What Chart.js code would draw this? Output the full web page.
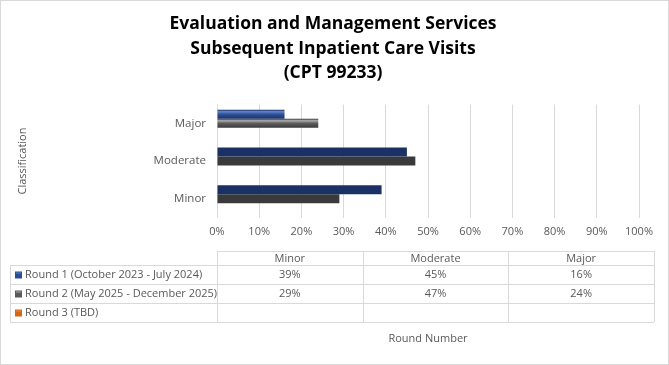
<!DOCTYPE html>
<html>
<head>
<meta charset="utf-8">
<script src="https://cdn.jsdelivr.net/npm/chart.js@4.4.1/dist/chart.umd.min.js"></script>
<style>
  html, body { margin: 0; padding: 0; background: #fff; }
  #wrap { width: 669px; height: 365px; position: relative; }
</style>
</head>
<body>
<div id="wrap"><canvas id="chart"></canvas></div>
<script>
// Chart data
const titleLines = ['Evaluation and Management Services', 'Subsequent Inpatient Care Visits', '(CPT 99233)'];
const categories = ['Minor', 'Moderate', 'Major'];
const seriesNames = ['Round 1 (October 2023 - July 2024)', 'Round 2 (May 2025 - December 2025)', 'Round 3 (TBD)'];
const round1 = [39, 45, 16];
const round2 = [29, 47, 24];
const round3 = [null, null, null];
const xTicks = [0, 10, 20, 30, 40, 50, 60, 70, 80, 90, 100];
const yAxisTitle = 'Classification';

const FONT = "'Open Sans', 'DejaVu Sans', sans-serif";
const TEXT_GRAY = '#595959';

// bar shading: dark / light / dark per series
const seriesShades = [
    { base: '#2f5195', light: '#5f82cb', dark: '#1b3166', swatch: '#2c4d8f' },
    { base: '#5c5c5c', light: '#ababab', dark: '#3a3a3a', swatch: '#595959' },
    { base: '#c55a11', light: '#f08a3c', dark: '#8f3e08', swatch: '#d4661a' }
];

// Give each bar a glossy vertical gradient based on its computed geometry
const barShading = {
    id: 'barShading',
    beforeDatasetsDraw(chart) {
        const ctx = chart.ctx;
        chart.data.datasets.forEach((ds, i) => {
            const meta = chart.getDatasetMeta(i);
            const shade = seriesShades[i];
            meta.data.forEach(bar => {
                if (!bar || isNaN(bar.y)) return;
                const top = bar.y - bar.height / 2;
                const g = ctx.createLinearGradient(0, top, 0, top + bar.height);
                g.addColorStop(0, shade.dark);
                g.addColorStop(0.2, shade.light);
                g.addColorStop(0.5, shade.base);
                g.addColorStop(1, shade.dark);
                bar.options.backgroundColor = g;
            });
        });
    }
};

// Data table drawn under the x axis, plus the rotated y axis title
const dataTable = {
    id: 'dataTable',
    afterDraw(chart) {
        const ctx = chart.ctx;
        const area = chart.chartArea;
        const left = 10, colStart = area.left, right = 654;
        const colW = (right - colStart) / categories.length;
        const rows = [251, 265, 284, 303, 322];
        const values = [round1, round2, round3];

        ctx.save();
        ctx.strokeStyle = '#d9d9d9';
        ctx.lineWidth = 1;
        ctx.beginPath();
        ctx.moveTo(colStart, rows[0] + 0.5); ctx.lineTo(right, rows[0] + 0.5);
        for (let r = 1; r < rows.length; r++) {
            ctx.moveTo(left, rows[r] + 0.5); ctx.lineTo(right, rows[r] + 0.5);
        }
        ctx.moveTo(left + 0.5, rows[1]); ctx.lineTo(left + 0.5, rows[4]);
        for (let c = 0; c <= categories.length; c++) {
            const x = Math.round(colStart + c * colW) + 0.5;
            ctx.moveTo(x, rows[0]); ctx.lineTo(x, rows[4]);
        }
        ctx.stroke();

        ctx.font = '11px ' + FONT;
        ctx.fillStyle = TEXT_GRAY;
        ctx.textBaseline = 'middle';
        ctx.textAlign = 'center';
        categories.forEach((c, j) => {
            ctx.fillText(c, colStart + (j + 0.5) * colW, (rows[0] + rows[1]) / 2 + 1);
        });
        seriesNames.forEach((name, i) => {
            const cy = (rows[i + 1] + rows[i + 2]) / 2 + 0.5;
            // legend key
            const sh = seriesShades[i];
            ctx.fillStyle = sh.swatch;
            ctx.fillRect(15, cy - 3.5, 7, 7);
            ctx.fillStyle = sh.light;
            ctx.fillRect(16, cy - 2.5, 5, 1);
            ctx.fillStyle = TEXT_GRAY;
            ctx.textAlign = 'left';
            ctx.fillText(name, 25, cy);
            ctx.textAlign = 'center';
            values[i].forEach((v, j) => {
                if (v === null) return;
                ctx.fillText(v + '%', colStart + (j + 0.5) * colW, cy);
            });
        });

        // y axis title
        ctx.translate(23, (area.top + area.bottom) / 2);
        ctx.rotate(-Math.PI / 2);
        ctx.textAlign = 'center';
        ctx.fillText(yAxisTitle, 0, 0);
        ctx.restore();
    }
};

// Light border round the whole chart
const frame = {
    id: 'frame',
    beforeDraw(chart) {
        const ctx = chart.ctx;
        ctx.save();
        ctx.fillStyle = '#fff';
        ctx.fillRect(0, 0, chart.width, chart.height);
        ctx.strokeStyle = '#d9d9d9';
        ctx.strokeRect(0.5, 0.5, chart.width - 1, chart.height - 1);
        ctx.restore();
    }
};

const datasets = [round1, round2, round3].map((vals, i) => ({
    label: seriesNames[i],
    data: vals,
    backgroundColor: seriesShades[i].base,
    borderWidth: 0,
    barPercentage: 1.0,
    categoryPercentage: 0.72
}));

new Chart(document.getElementById('chart'), {
    type: 'bar',
    data: { labels: categories, datasets: datasets },
    plugins: [frame, barShading, dataTable],
    options: {
        indexAxis: 'y',
        responsive: true,
        maintainAspectRatio: false,
        animation: false,
        layout: { padding: { left: 27, right: 30, top: 0, bottom: 20 } },
        plugins: {
            legend: { display: false },
            tooltip: { enabled: false },
            title: {
                display: true,
                text: titleLines,
                color: '#000',
                font: { family: FONT, size: 17.5, weight: 'bold', lineHeight: 1.4 },
                padding: { top: 12, bottom: 19 }
            }
        },
        scales: {
            x: {
                min: 0,
                max: 100,
                afterBuildTicks: scale => { scale.ticks = xTicks.map(v => ({ value: v })); },
                ticks: {
                    color: TEXT_GRAY,
                    font: { family: FONT, size: 11 },
                    padding: 8,
                    callback: v => v + '%'
                },
                grid: { color: '#d9d9d9', drawTicks: false },
                border: { display: false },
                title: {
                    display: true,
                    text: 'Round Number',
                    color: TEXT_GRAY,
                    font: { family: FONT, size: 11 },
                    padding: { top: 85, bottom: 0 }
                }
            },
            y: {
                reverse: true,
                afterFit: scale => { scale.width = 190; },
                ticks: {
                    color: TEXT_GRAY,
                    font: { family: FONT, size: 11.5 },
                    padding: 3
                },
                grid: { display: false },
                border: { display: false }
            }
        }
    }
});
</script>
</body>
</html>
